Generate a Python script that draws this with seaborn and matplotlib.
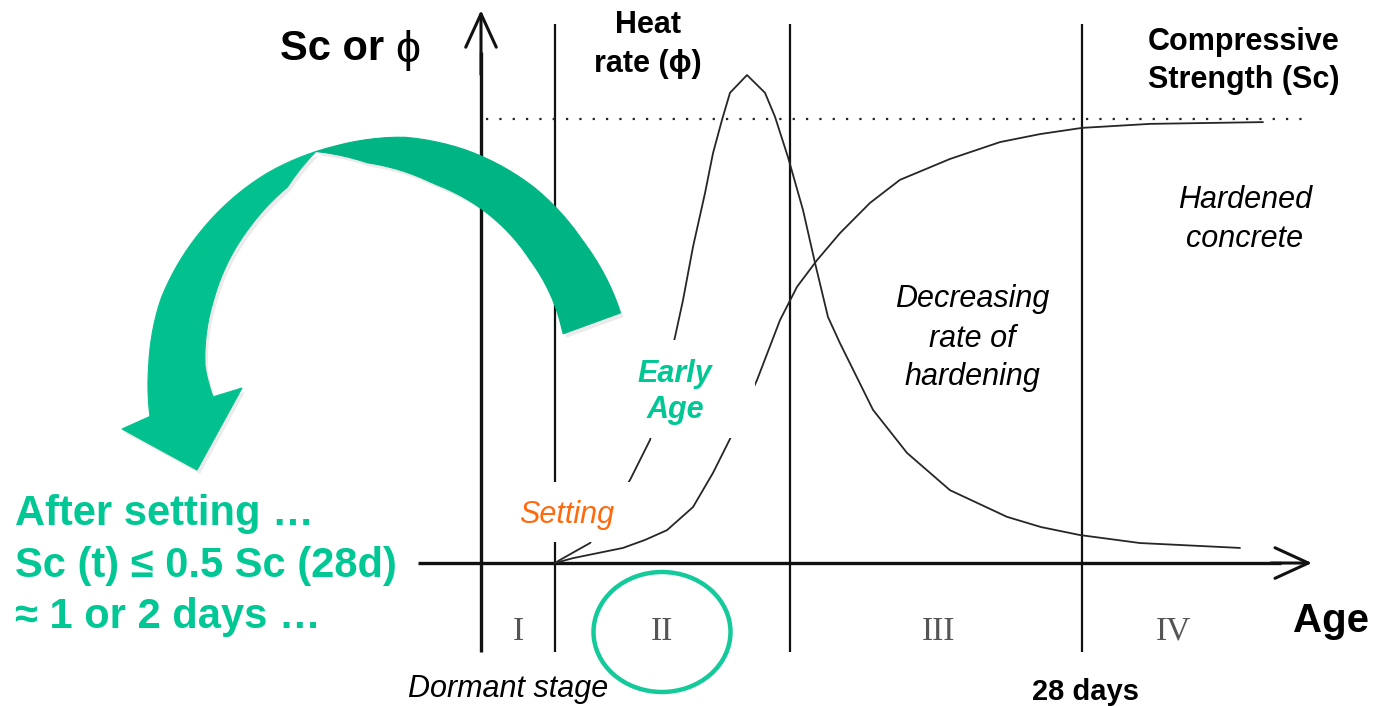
import numpy as np
import pandas as pd
import seaborn as sns
import matplotlib
import matplotlib.pyplot as plt
from matplotlib.patches import Polygon, Ellipse, Rectangle

matplotlib.use("Agg")

# ------------------------------------------------------------------------------
# data: age in arbitrary units (origin = y axis), values relative to Sc(28d) = 1
# ------------------------------------------------------------------------------
heat_age = [0.74, 0.79, 1.09, 1.49, 1.69, 1.94, 2.02, 2.12, 2.24, 2.32, 2.41, 2.49,
            2.66, 2.84, 2.94, 3.07, 3.22, 3.34, 3.47, 3.59, 3.92, 4.26, 4.69,
            5.26, 5.60, 5.99, 6.59, 7.59]
heat_rate = [0.0, 0.007, 0.045, 0.187, 0.277, 0.509, 0.592, 0.712, 0.833, 0.923,
             0.998, 1.059, 1.099, 1.059, 1.005, 0.914, 0.795, 0.676, 0.554, 0.495,
             0.345, 0.248, 0.164, 0.104, 0.081, 0.063, 0.045, 0.034]

strength_age = [0.74, 0.92, 1.42, 1.64, 1.86, 2.12, 2.32, 2.52, 2.76, 2.99, 3.16,
                3.36, 3.59, 3.89, 4.19, 4.69, 5.19, 5.59, 6.01, 6.69, 7.82]
strength = [0.0, 0.011, 0.034, 0.052, 0.074, 0.126, 0.203, 0.293, 0.412, 0.547,
            0.622, 0.682, 0.743, 0.811, 0.863, 0.910, 0.948, 0.966, 0.980, 0.989,
            0.993]

stage_bounds = [0.74, 3.09, 6.01]
stage_labels = ["I", "II", "III", "IV"]
stage_label_age = [0.37, 1.81, 4.57, 6.92]

note_lines = ["After setting …", "Sc (t) ≤ 0.5 Sc (28d)", "≈ 1 or 2 days …"]

GREEN = "#00C794"
ARROW_DARK = "#00B583"
ARROW_LIGHT = "#03C18E"
ORANGE = "#FF6A0D"
W, H = 1377, 706


def px(x, y):
    # pixel position in the picture -> axes fraction
    return (x / W, 1 - y / H)


def arc(angles, radii, cx=395, cy=395):
    a = np.radians(angles)
    r = np.asarray(radii)
    return np.column_stack([cx + r * np.cos(a), cy - r * np.sin(a)])


sns.set_style("white")
plt.rcParams["font.family"] = ["Liberation Sans", "DejaVu Sans"]
plt.rcParams["text.color"] = "black"

fig = plt.figure(figsize=(W / 100, H / 100), dpi=100)
ax = fig.add_axes([0, 0, 1, 1])
ax.set_xlim(-4.81, 8.96)
ax.set_ylim(-0.322, 1.268)
ax.set_axis_off()

df = pd.concat([
    pd.DataFrame({"age": heat_age, "value": heat_rate, "curve": "Heat rate"}),
    pd.DataFrame({"age": strength_age, "value": strength, "curve": "Strength"}),
])
sns.lineplot(data=df, x="age", y="value", hue="curve", palette=["#262626", "#262626"],
             estimator=None, sort=False, legend=False, lw=1.3, ax=ax, zorder=3)

# stage boundaries and axes
ax.vlines(stage_bounds, -0.2, 1.214, color="#111111", lw=1.6, zorder=2)
ax.vlines(0, -0.2, 1.15, color="#111111", lw=2.4, zorder=2)
ax.hlines(0, -0.63, 8.0, color="#111111", lw=2.4, zorder=2)
arrow_kw = dict(arrowstyle="->,head_length=1.2,head_width=0.55", lw=2.2,
                color="#111111", shrinkA=0, shrinkB=0, mutation_scale=20)
ax.annotate("", xy=(0, 1.245), xytext=(0, 1.1), arrowprops=arrow_kw, zorder=2)
ax.annotate("", xy=(8.31, 0), xytext=(7.9, 0), arrowprops=arrow_kw, zorder=2)
ax.hlines(1.0, 0.05, 8.25, color="#222222", lw=1.6, linestyles=(0, (1, 5)), zorder=2)

# white masks behind the labels
for x0, y0, x1, y1 in [(505, 482, 633, 542), (600, 340, 755, 438)]:
    ax.add_patch(Rectangle(px(x0, y1), (x1 - x0) / W, (y1 - y0) / H,
                           transform=ax.transAxes, facecolor="white",
                           edgecolor="none", zorder=4))

# curved green arrow (ribbon twisting near the top-left)
t_a = np.linspace(20, 108, 40)
t_b = np.linspace(108, 185, 40)
out_t = [20, 39.5, 56.4, 73.6, 88, 104, 120, 140, 158, 173.5, 185]
out_r = [240, 243, 250, 255, 258, 256, 256, 254, 253, 248, 246]
outer_a = arc(t_a, np.interp(t_a, out_t, out_r))
inner_a = arc(t_a, np.interp(t_a, [20.6, 45, 64.6, 79.8, 96.9, 108],
                             [179, 191, 205, 215, 234, 256]))
outer_b = arc(t_b, np.interp(t_b, out_t, out_r))
t_bi = np.linspace(108, 180.6, 40)
inner_b = arc(t_bi, np.interp(t_bi, [108, 117.4, 130.8, 152, 171.6, 180.6],
                              [256, 234, 222, 205, 192, 182]))
head = np.array([[122, 429], [197, 470], [242, 388]])
part_a = np.vstack([outer_a, inner_a[::-1]])
part_b = np.vstack([outer_b, head, inner_b[::-1]])
for pts in (part_a, part_b):
    shadow = np.column_stack([(pts[:, 0] + 3) / W, 1 - (pts[:, 1] + 4) / H])
    ax.add_patch(Polygon(shadow, closed=True, transform=ax.transAxes,
                         facecolor="#000000", alpha=0.08, edgecolor="none", zorder=5))
for pts, col in [(part_a, ARROW_DARK), (part_b, ARROW_LIGHT)]:
    frac = np.column_stack([pts[:, 0] / W, 1 - pts[:, 1] / H])
    ax.add_patch(Polygon(frac, closed=True, transform=ax.transAxes,
                         facecolor=col, edgecolor=col, lw=0.8, zorder=6))

# circle around stage II
ax.add_patch(Ellipse(px(662, 632), 137 / W, 120 / H, transform=ax.transAxes,
                     facecolor="none", edgecolor="#14C99A", lw=3.2, zorder=6))

# stage numerals
for x, lab in zip(stage_label_age, stage_labels):
    ax.text(x, -0.173, lab, ha="center", va="baseline", fontsize=24,
            family="Liberation Serif", color="#555555", zorder=7)


def label(x, y, s, size=22, ha="center", **kw):
    kw.setdefault("color", "black")
    ax.text(*px(x, y), s, transform=ax.transAxes, ha=ha, va="baseline",
            fontsize=size, zorder=7, **kw)


label(280, 60, "Sc or", size=30, ha="left", weight="bold")
label(408, 62, "ϕ", size=32)
label(648, 33, "Heat", weight="bold")
label(648, 72, "rate (ϕ)", weight="bold")
label(1244, 50, "Compressive", weight="bold")
label(1244, 88, "Strength (Sc)", weight="bold")
label(1245, 208, "Hardened", style="italic")
label(1245, 247, "concrete", style="italic")
label(972, 307, "Decreasing", style="italic")
label(972, 347, "rate of", style="italic")
label(972, 385, "hardening", style="italic")
label(675, 382, "Early", weight="bold", style="italic", color=GREEN)
label(675, 418, "Age", weight="bold", style="italic", color=GREEN)
label(567, 523, "Setting", style="italic", color=ORANGE)
for yb, line in zip([525, 577, 628], note_lines):
    label(15, yb, line, size=30, ha="left", weight="bold", color=GREEN)
label(1293, 632, "Age", size=29, ha="left", weight="bold")
label(1032, 700, "28 days", size=21, ha="left", weight="bold")
label(408, 697, "Dormant stage", ha="left", style="italic")

fig.savefig("out.png", dpi=100)
